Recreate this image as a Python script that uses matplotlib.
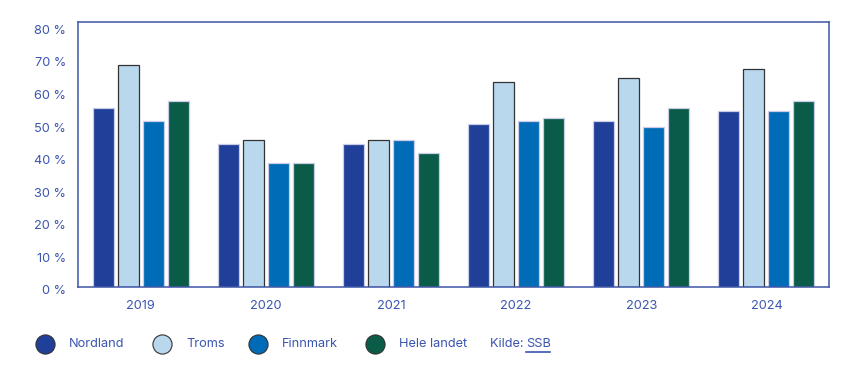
import numpy as np
import matplotlib.pyplot as plt
import matplotlib.transforms as mtransforms

# Data
years = ['2019', '2020', '2021', '2022', '2023', '2024']
nordland = [55, 44, 44, 50, 51, 54]
troms = [68, 45, 45, 63, 64, 67]
finnmark = [51, 38, 45, 51, 49, 54]
hele_landet = [57, 38, 41, 52, 55, 57]
series_names = ['Nordland', 'Troms', 'Finnmark', 'Hele landet']
y_ticks = [0, 10, 20, 30, 40, 50, 60, 70, 80]

colors = ['#1f3f98', '#b9d8ee', '#006bb6', '#0a5c48']
edges = ['#c9cde8', '#333333', '#c9cde8', '#c9cde8']
text_blue = '#3b55b0'
frame_blue = '#3d56a6'

plt.rcParams['font.family'] = ['Inter', 'DejaVu Sans']

fig = plt.figure(figsize=(8.53, 3.70), dpi=100)
ax = fig.add_axes([78/853, (370-287)/370, 751/853, (287-22)/370])

x = np.arange(len(years))
slot = 0.2
width = 0.168
for i, vals in enumerate([nordland, troms, finnmark, hele_landet]):
    ax.bar(x + (i - 1.5) * slot, vals, width=width, color=colors[i],
           edgecolor=edges[i], linewidth=0.9, zorder=2)

ax.set_xlim(-0.5, 5.5)
ax.set_ylim(0, 81.3)
ax.set_xticks(x)
ax.set_xticklabels(years)
ax.set_yticks(y_ticks)
ax.set_yticklabels([f'{v} %' for v in y_ticks])
ax.tick_params(axis='both', length=0, labelsize=9.2, labelcolor=text_blue)
ax.tick_params(axis='y', pad=8.5)
ax.tick_params(axis='x', pad=9.5)
for lab in ax.get_yticklabels():
    lab.set_transform(lab.get_transform() +
                      mtransforms.ScaledTranslation(0, -3/100, fig.dpi_scale_trans))
for sp in ax.spines.values():
    sp.set_color(frame_blue)
    sp.set_linewidth(1.1)

# Legend drawn in pixel space
lax = fig.add_axes([0, 0, 1, 1], zorder=-1)
lax.set_xlim(0, 853)
lax.set_ylim(370, 0)
lax.axis('off')
leg_x = [45, 162, 258, 375]
leg_y = 344
for i, name in enumerate(series_names):
    lax.scatter(leg_x[i], leg_y, s=190, color=colors[i], edgecolor='#333333',
                linewidth=0.8)
    lax.text(leg_x[i] + 24, leg_y, name, va='center', ha='left',
             fontsize=9.2, color=text_blue)
lax.text(490, leg_y, 'Kilde: ', va='center', ha='left', fontsize=9.2, color=text_blue)
lax.text(526, leg_y, 'SSB', va='center', ha='left', fontsize=9.2, color=text_blue)
lax.plot([526, 550], [352, 352], color=text_blue, linewidth=1.2)

fig.savefig('out.png', dpi=100)
